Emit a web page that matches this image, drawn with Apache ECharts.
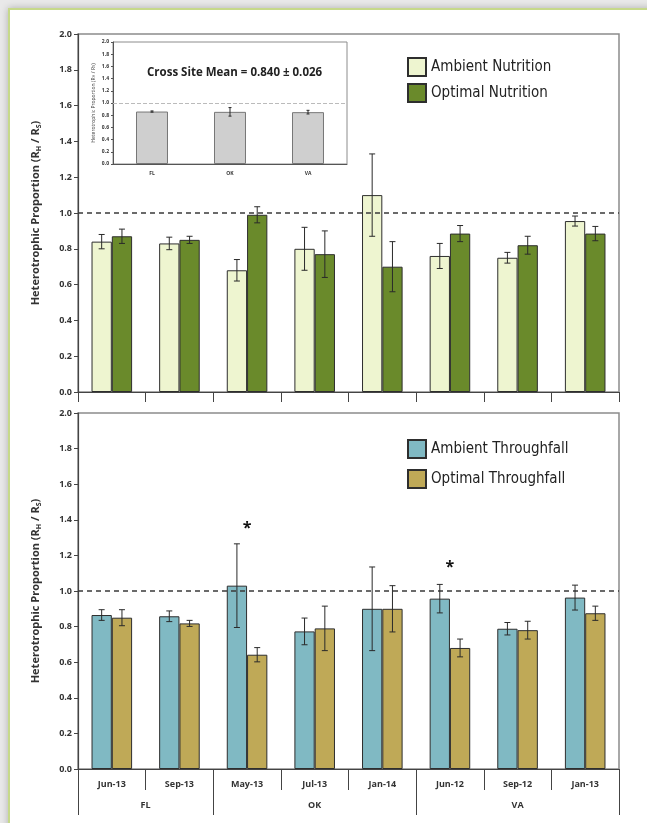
<!DOCTYPE html>
<html>
<head>
<meta charset="utf-8">
<script src="https://cdn.jsdelivr.net/npm/echarts@6/dist/echarts.min.js"></script>
<style>
  html, body { margin: 0; padding: 0; background: #e9e9e9; overflow: hidden; }
  #frame { position: absolute; left: 8px; top: 8px; width: 700px; height: 900px; background: #fff;
           border-left: 2px solid #c6d98a; border-top: 2px solid #c6d98a; box-shadow: 0 0 7px rgba(0,0,0,0.25); }
  #chart { position: absolute; left: 0; top: 0; width: 647px; height: 823px; }
</style>
</head>
<body>
<div id="frame"></div>
<div id="chart"></div>
<script>
// categories
var categories = ['Jun-13', 'Sep-13', 'May-13', 'Jul-13', 'Jan-14', 'Jun-12', 'Sep-12', 'Jan-13']
var sites = ['FL', 'OK', 'VA']
var siteCounts = [2, 3, 3]

// top panel: nutrition
var ambientNut = [0.84, 0.83, 0.68, 0.80, 1.10, 0.76, 0.75, 0.955]
var ambientNutErr = [0.04, 0.035, 0.06, 0.12, 0.23, 0.07, 0.03, 0.028]
var optimalNut = [0.87, 0.85, 0.99, 0.77, 0.70, 0.885, 0.82, 0.885]
var optimalNutErr = [0.04, 0.02, 0.045, 0.13, 0.14, 0.045, 0.05, 0.04]

// bottom panel: throughfall
var ambientTf = [0.865, 0.858, 1.03, 0.773, 0.90, 0.957, 0.788, 0.963]
var ambientTfErr = [0.03, 0.03, 0.235, 0.075, 0.235, 0.08, 0.035, 0.07]
var optimalTf = [0.85, 0.818, 0.642, 0.79, 0.90, 0.68, 0.78, 0.875]
var optimalTfErr = [0.045, 0.017, 0.04, 0.125, 0.13, 0.05, 0.05, 0.04]

// significance marks (category, height)
var stars = [['May-13', 1.35], ['Jun-12', 1.13]]

// inset
var insetSites = ['FL', 'OK', 'VA']
var insetMean = [0.86, 0.855, 0.85]
var insetErr = [0.01, 0.07, 0.03]
var insetText = 'Cross Site Mean = 0.840 \u00b1 0.026'

var font = "'Open Sans', 'Noto Sans', sans-serif"
var legendFont = "'Liberation Sans Narrow', 'DejaVu Sans Condensed', 'Roboto', sans-serif"

var myEcharts = echarts.init(document.getElementById('chart'))

// 误差线
function errSeries(vals, errs, side, xi, cap) {
    return {
        type: 'custom',
        xAxisIndex: xi,
        yAxisIndex: xi,
        z: 5,
        data: vals.map(function (v, i) { return [i, v, errs[i]] }),
        encode: { x: 0, y: 1 },
        renderItem: function (params, api) {
            var i = api.value(0), v = api.value(1), e = api.value(2)
            var band = api.size([1, 0])[0]
            var dx = band * side
            var hi = api.coord([i, v + e])
            var lo = api.coord([i, v - e])
            var x = hi[0] + dx
            var st = { stroke: '#2a2a2a', lineWidth: 1 }
            return {
                type: 'group',
                children: [
                    { type: 'line', shape: { x1: x, y1: hi[1], x2: x, y2: lo[1] }, style: st },
                    { type: 'line', shape: { x1: x - cap, y1: hi[1], x2: x + cap, y2: hi[1] }, style: st },
                    { type: 'line', shape: { x1: x - cap, y1: lo[1], x2: x + cap, y2: lo[1] }, style: st }
                ]
            }
        }
    }
}

function barSeries(name, vals, color, xi, extra) {
    var s = {
        name: name,
        type: 'bar',
        xAxisIndex: xi,
        yAxisIndex: xi,
        data: vals,
        barWidth: '30%',
        barGap: '0%',
        itemStyle: { color: color, borderColor: '#2e2e2e', borderWidth: 1 }
    }
    if (extra) Object.assign(s, extra)
    return s
}

var refLine = {
    silent: true,
    symbol: 'none',
    label: { show: false },
    lineStyle: { color: '#3a3a3a', type: [5, 4], width: 1.5 },
    data: [{ yAxis: 1 }]
}

var yTick = {
    fontSize: 9, fontWeight: 'bold', color: '#333', fontFamily: font, margin: 6,
    formatter: function (v) { return v.toFixed(1) }
}

function yAxis(gi) {
    return {
        type: 'value', gridIndex: gi, min: 0, max: 2, interval: 0.2,
        axisLine: { show: true, lineStyle: { color: '#444', width: 1.2 } },
        axisTick: { show: true, length: 4, lineStyle: { color: '#444' } },
        splitLine: { show: false },
        axisLabel: yTick,
        name: 'Heterotrophic Proportion (R{s|H} / R{s|S})',
        nameLocation: 'middle',
        nameGap: 36,
        nameTextStyle: {
            fontSize: 11, fontWeight: 'bold', color: '#333', fontFamily: font,
            rich: { s: { fontSize: 7, fontWeight: 'bold', color: '#333', fontFamily: font, padding: [6, 0, 0, 0] } }
        }
    }
}

// group boundaries for the site axis
var bounds = [0], mids = []
siteCounts.forEach(function (c, i) {
    mids.push(bounds[i] + c / 2)
    bounds.push(bounds[i] + c)
})

myEcharts.setOption({
    animation: false,
    backgroundColor: 'transparent',
    grid: [
        { left: 78, top: 34, width: 541, height: 358, show: true, borderColor: '#8c8c8c', borderWidth: 1.5 },
        { left: 78, top: 413, width: 541, height: 356, show: true, borderColor: '#8c8c8c', borderWidth: 1.5 },
        { left: 113, top: 42, width: 234, height: 122, show: true, borderColor: '#8c8c8c', borderWidth: 1, backgroundColor: '#fff' }
    ],
    legend: [
        {
            data: ['Ambient Nutrition', 'Optimal Nutrition'],
            orient: 'vertical', left: 402, top: 52, itemWidth: 18, itemHeight: 18, itemGap: 6,
            icon: 'rect',
            textStyle: { fontSize: 15, color: '#222', fontFamily: legendFont }
        },
        {
            data: ['Ambient Throughfall', 'Optimal Throughfall'],
            orient: 'vertical', left: 402, top: 434, itemWidth: 18, itemHeight: 18, itemGap: 10,
            icon: 'rect',
            textStyle: { fontSize: 15, color: '#222', fontFamily: legendFont }
        }
    ],
    graphic: [
        {
            type: 'text', left: 147, top: 67,
            style: { text: insetText, fontSize: 11.5, fontWeight: 'bold', fill: '#222', fontFamily: font }
        }
    ],
    xAxis: [
        {
            type: 'category', gridIndex: 0, data: categories,
            axisLine: { lineStyle: { color: '#444', width: 1.2 } },
            axisTick: { show: true, interval: 0, length: 10, lineStyle: { color: '#444' } },
            axisLabel: { show: false }
        },
        {
            type: 'category', gridIndex: 1, data: categories,
            axisLine: { lineStyle: { color: '#444', width: 1.2 } },
            axisTick: { show: true, interval: 0, length: 21, lineStyle: { color: '#444' } },
            axisLabel: { interval: 0, fontSize: 9, fontWeight: 'bold', color: '#333', fontFamily: font, margin: 11 }
        },
        {
            type: 'category', gridIndex: 2, data: insetSites,
            axisLine: { lineStyle: { color: '#555', width: 1 } },
            axisTick: { show: false },
            axisLabel: { fontSize: 5, fontWeight: 'bold', color: '#333', fontFamily: font, margin: 7 }
        },
        {
            type: 'value', gridIndex: 1, min: 0, max: 8, position: 'bottom',
            axisLine: { show: false },
            splitLine: { show: false },
            axisTick: { show: true, length: 46, customValues: bounds, lineStyle: { color: '#444' } },
            axisLabel: {
                fontSize: 9, fontWeight: 'bold', color: '#333', fontFamily: font, margin: 32,
                customValues: mids,
                formatter: function (v) { return sites[mids.indexOf(v)] }
            }
        }
    ],
    yAxis: [
        yAxis(0),
        yAxis(1),
        {
            type: 'value', gridIndex: 2, min: 0, max: 2, interval: 0.2,
            axisLine: { show: true, lineStyle: { color: '#555', width: 1 } },
            axisTick: { show: true, length: 2, lineStyle: { color: '#555' } },
            splitLine: { show: false },
            axisLabel: { fontSize: 5, fontWeight: 'bold', color: '#333', fontFamily: font, margin: 4,
                formatter: function (v) { return v.toFixed(1) } },
            name: 'Heterotrophic Proportion (R{s|H} / R{s|S})',
            nameLocation: 'middle',
            nameGap: 17,
            nameTextStyle: { fontSize: 5, color: '#444', fontFamily: font,
                rich: { s: { fontSize: 4, color: '#444', fontFamily: font } } }
        }
    ],
    series: [
        barSeries('Ambient Nutrition', ambientNut, '#eef5d0', 0, { markLine: refLine }),
        barSeries('Optimal Nutrition', optimalNut, '#6a8a2b', 0),
        errSeries(ambientNut, ambientNutErr, -0.15, 0, 3),
        errSeries(optimalNut, optimalNutErr, 0.15, 0, 3),

        barSeries('Ambient Throughfall', ambientTf, '#80b9c3', 1, { markLine: refLine }),
        barSeries('Optimal Throughfall', optimalTf, '#bfa957', 1),
        errSeries(ambientTf, ambientTfErr, -0.15, 1, 3),
        errSeries(optimalTf, optimalTfErr, 0.15, 1, 3),
        {
            type: 'custom', xAxisIndex: 1, yAxisIndex: 1, z: 6,
            data: stars.map(function (s) { return [categories.indexOf(s[0]), s[1]] }),
            encode: { x: 0, y: 1 },
            renderItem: function (params, api) {
                var p = api.coord([api.value(0), api.value(1)])
                return {
                    type: 'text', x: p[0], y: p[1],
                    style: { text: '*', fontSize: 16, fontWeight: 'bold', fill: '#111', align: 'center', verticalAlign: 'middle', fontFamily: font }
                }
            }
        },

        {
            name: 'Cross Site', type: 'bar', xAxisIndex: 2, yAxisIndex: 2, data: insetMean,
            barWidth: '41%',
            itemStyle: { color: '#cfcfcf', borderColor: '#777', borderWidth: 1 },
            markLine: {
                silent: true, symbol: 'none', label: { show: false },
                lineStyle: { color: '#bbb', type: 'dashed', width: 1 },
                data: [{ yAxis: 1 }]
            }
        },
        errSeries(insetMean, insetErr, 0, 2, 1.5)
    ]
})
</script>
</body>
</html>
